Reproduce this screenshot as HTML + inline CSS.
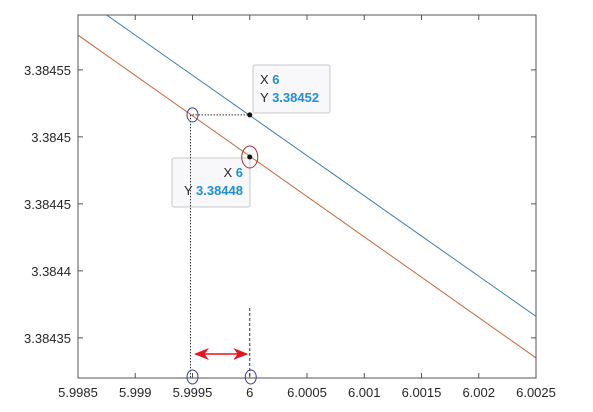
<!DOCTYPE html>
<html><head><meta charset="utf-8"><style>
body{margin:0;background:#fff;width:593px;height:407px;overflow:hidden}
svg{font-family:"Liberation Sans",Arial,sans-serif}
</style></head><body>
<svg id="c" width="593" height="407"></svg>
<script>
const xTicks=[5.9985,5.999,5.9995,6,6.0005,6.001,6.0015,6.002,6.0025];
const xTickLabels=["5.9985","5.999","5.9995","6","6.0005","6.001","6.0015","6.002","6.0025"];
const yTicks=[3.38435,3.3844,3.38445,3.3845,3.38455];
const yTickLabels=["3.38435","3.3844","3.38445","3.3845","3.38455"];
const seriesX=[5.9985,6.0025];
const blueY=[3.384606,3.384366];
const redY=[3.384576,3.384335];
const tipX=[6,6];
const tipY=[3.3845164,3.384485];
const tipLabels=["3.38452","3.38448"];
const NS="http://www.w3.org/2000/svg";
const L=78,R=536,T=15,B=378;
const x0=5.9985,x1=6.0025,y0=3.38432,y1=3.384591;
const sx=v=>L+(v-x0)/(x1-x0)*(R-L);
const sy=v=>B-(v-y0)/(y1-y0)*(B-T);
const svg=document.getElementById('c');
function el(t,a,p){const e=document.createElementNS(NS,t);for(const k in a)e.setAttribute(k,a[k]);(p||svg).appendChild(e);return e;}
const defs=el('defs',{});
const cp=el('clipPath',{id:'clip'},defs);el('rect',{x:L,y:T,width:R-L,height:B-T},cp);
const mk=el('marker',{id:'ah',markerWidth:10,markerHeight:8,refX:9,refY:4,orient:'auto-start-reverse'},defs);
el('path',{d:'M0,0 L10,4 L0,8 L3,4 z',fill:'#e8141a'},mk);
xTicks.forEach((v,i)=>{
 const tk=el('path',{d:`M${sx(v)},${B}v-5M${sx(v)},${T}v5`,stroke:'#555'});
 
 const t=el('text',{x:sx(v),y:B+19,'text-anchor':'middle','font-size':13,fill:'#262626'});
 t.textContent=xTickLabels[i];
 
});
yTicks.forEach((v,i)=>{
 const tk=el('path',{d:`M${L},${sy(v)}h5M${R},${sy(v)}h-5`,stroke:'#555'});
 
 const t=el('text',{x:L-7,y:sy(v)+5,'text-anchor':'end','font-size':13,fill:'#262626'});
 t.textContent=yTickLabels[i];
 
});
const g=el('g',{'clip-path':'url(#clip)'});
const bl=el('line',{x1:sx(seriesX[0]),y1:sy(blueY[0]),x2:sx(seriesX[1]),y2:sy(blueY[1]),stroke:'#3a7fb0','stroke-width':1},g);

const rl=el('line',{x1:sx(seriesX[0]),y1:sy(redY[0]),x2:sx(seriesX[1]),y2:sy(redY[1]),stroke:'#c8693a','stroke-width':1},g);

const fr=el('rect',{x:L,y:T,width:R-L,height:B-T,fill:'none',stroke:'#555'});

const bx=sx(5.9995), py=sy(tipY[0]), px=sx(tipX[0]);
function tip(x,y,w,h,anchor,tx,ty,yv){
 const gg=el('g',{});
 
 el('rect',{x:x,y:y,width:w,height:h,fill:'#f8f8fa',stroke:'#c8c8c8',rx:2},gg);
 const t1=el('text',{x:tx,y:ty,'text-anchor':anchor,'font-size':13,fill:'#262626'},gg);
 t1.innerHTML='X <tspan fill="#1f8fdc" font-weight="bold">6</tspan>';
 const t2=el('text',{x:tx,y:ty+18,'text-anchor':anchor,'font-size':13,fill:'#262626'},gg);
 t2.innerHTML='Y <tspan fill="#1f8fdc" font-weight="bold">'+yv+'</tspan>';
}
tip(253,65,77,48,'start',260,84,tipLabels[0]);
tip(172,158,78,49,'end',243,177,tipLabels[1]);
el('path',{d:`M${bx},${py}H${px}M${bx-2},${py}V${B}`,stroke:'#333','stroke-dasharray':'1.5,1.5',fill:'none'});
el('path',{d:`M${px},${B-70}V${B}`,stroke:'#333','stroke-dasharray':'3,2'});
const ar=el('line',{x1:bx+3,y1:B-24,x2:px-3,y2:B-24,stroke:'#e8141a','stroke-width':1.5,'marker-start':'url(#ah)','marker-end':'url(#ah)'});

el('ellipse',{cx:bx,cy:py,rx:5.5,ry:7,fill:'none',stroke:'#3b3b9c'});
el('ellipse',{cx:px,cy:sy(tipY[1]),rx:8,ry:11,fill:'none',stroke:'#a83232'});
el('ellipse',{cx:bx,cy:B-1,rx:5.5,ry:7,fill:'none',stroke:'#3b3b9c'});
el('ellipse',{cx:px+1,cy:B-1,rx:5.5,ry:7,fill:'none',stroke:'#3b3b9c'});
tipY.forEach((v,i)=>{const c=el('circle',{cx:sx(tipX[i]),cy:sy(v),r:2.5,fill:'#111'});
 });
</script>
</body></html>
